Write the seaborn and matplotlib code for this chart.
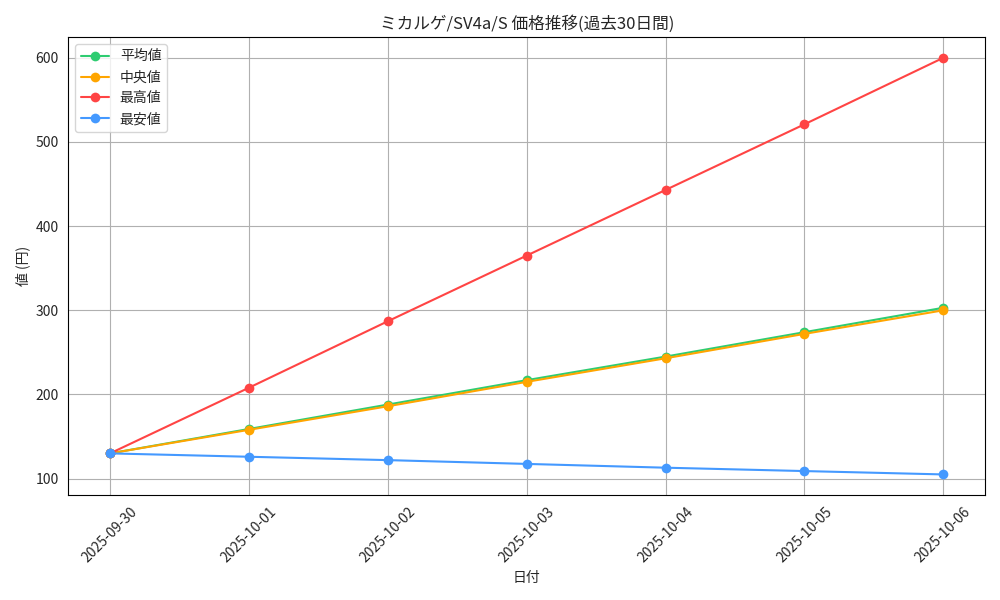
import matplotlib
matplotlib.use("Agg")
import matplotlib.pyplot as plt
import seaborn as sns
import pandas as pd

dates = ["2025-09-30","2025-10-01","2025-10-02","2025-10-03","2025-10-04","2025-10-05","2025-10-06"]
avg_vals = [130, 159, 188, 217, 245, 274, 303]
med_vals = [130, 158, 186, 215, 243, 272, 300]
max_vals = [130, 208, 287, 365, 443, 521, 600]
min_vals = [130, 126, 122, 117.5, 113, 109, 105]
labels = ["平均値", "中央値", "最高値", "最安値"]
colors = ["#2ecc71", "#ffa500", "#ff4444", "#4499ff"]

sns.set_style("white")
plt.rcParams['font.family'] = ['Noto Sans CJK JP', 'DejaVu Sans']

fig, ax = plt.subplots(figsize=(10, 6), dpi=100)
x = pd.to_datetime(dates)
for vals, lab, c in zip([avg_vals, med_vals, max_vals, min_vals], labels, colors):
    sns.lineplot(x=x, y=vals, ax=ax, label=lab, color=c, marker="o",
                 markersize=7, markeredgewidth=0, linewidth=1.5)
ax.set_xticks(x)
ax.set_xticklabels(dates, rotation=45)
ax.grid(True, color="#b0b0b0", linewidth=0.8)
for s in ax.spines.values():
    s.set_color("black")
ax.set_title("ミカルゲ/SV4a/S 価格推移(過去30日間)")
ax.set_xlabel("日付")
ax.set_ylabel("値 (円)")
ax.legend(loc="upper left")
fig.tight_layout()
fig.savefig("out.png")
